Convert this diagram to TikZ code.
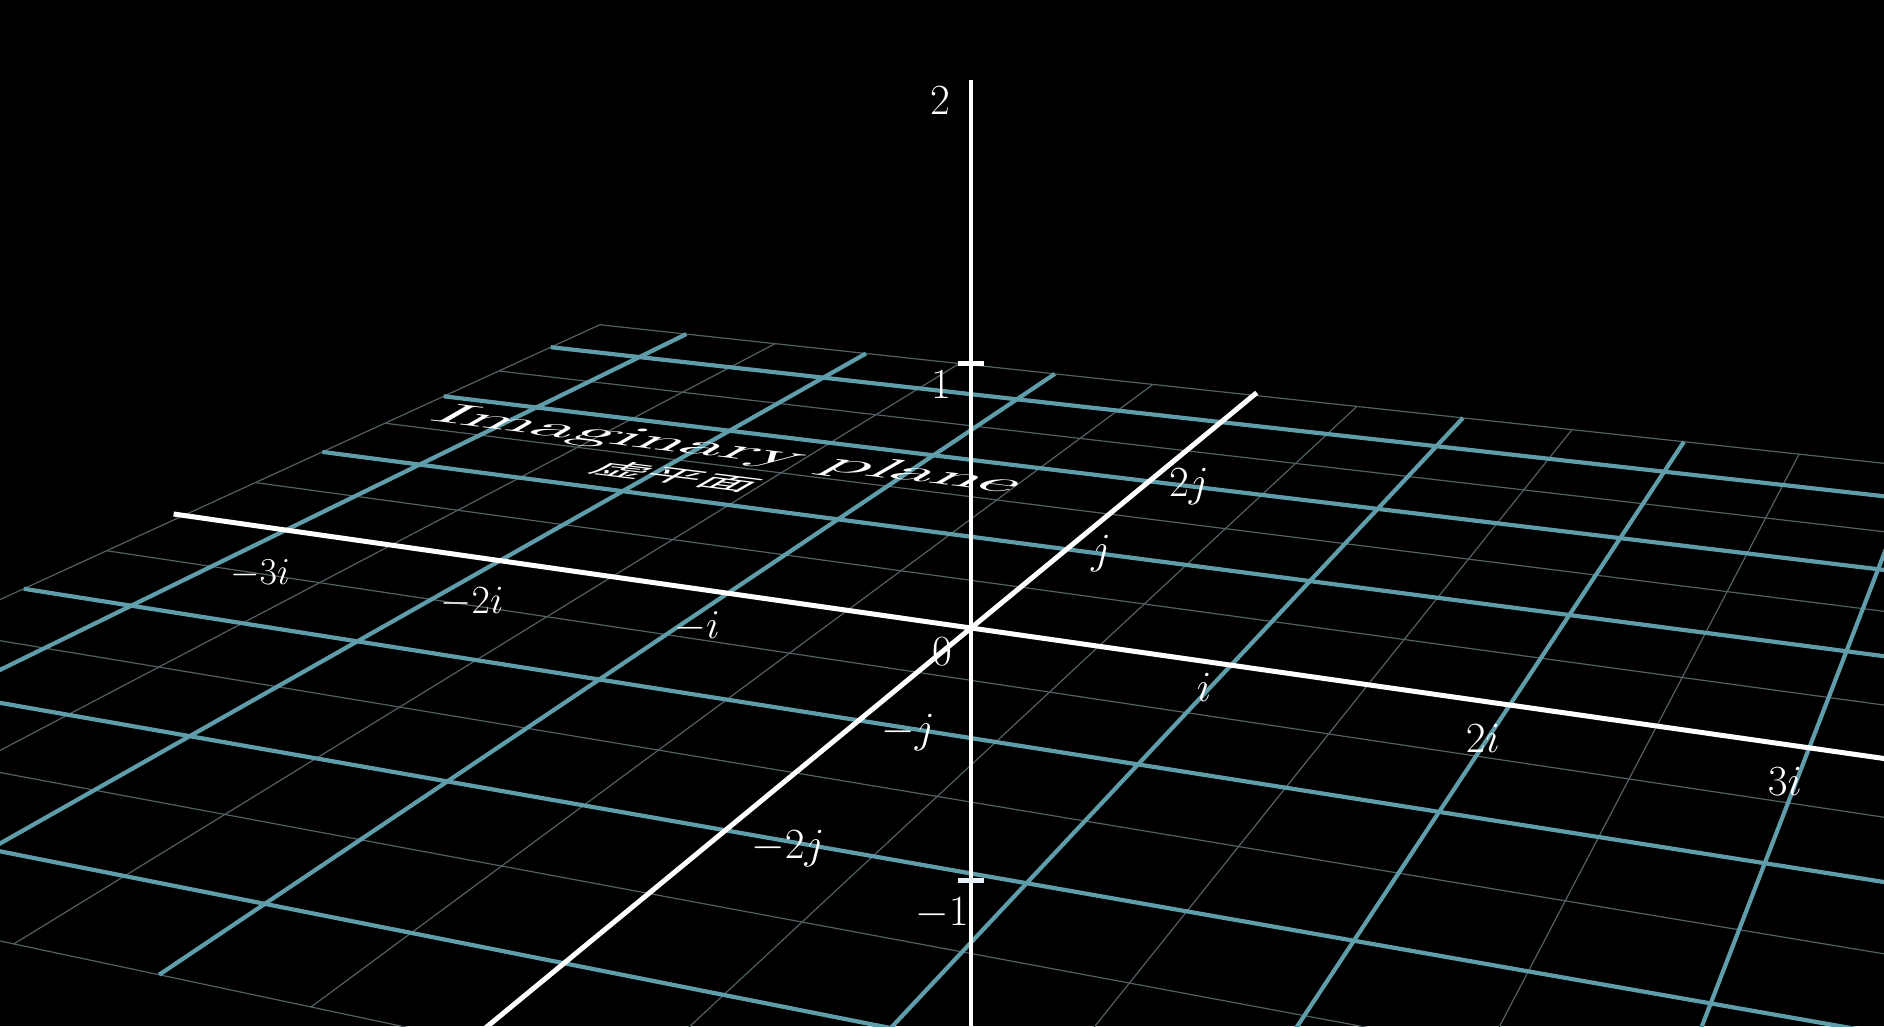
\RequirePackage{fix-cm}
\documentclass[tikz,border=0pt]{standalone}
\usepackage{fontspec}
\newfontfamily\cjk{Noto Sans CJK SC}
\usetikzlibrary{positioning}
\definecolor{gridBlue}{HTML}{5F9DAA}
\definecolor{gridFaint}{HTML}{525F63}

\begin{document}
\begin{tikzpicture}[x=1pt,y=-1pt,
    declare function={
      pw(\uu,\vv)=1-0.03349*(\uu)+0.07966*(\vv);
      planex(\uu,\vv)=(971+218.8*(\uu)+180.6*(\vv))/pw(\uu,\vv);
      planey(\uu,\vv)=(628+14.9*(\uu)-35*(\vv))/pw(\uu,\vv);},
    major/.style={gridBlue,line width=4.2pt},
    minor/.style={gridFaint,line width=1.2pt},
    axis/.style={white,line width=5pt},
    lbl/.style={text=white,inner sep=0pt,font=\fontsize{#1}{#1}\selectfont},
    lbl/.default=43,
    flat/.style={cm={8.144,-1.014,4.168,2.396,(0,0)},transform shape}]
  \useasboundingbox (0,0) rectangle (1884,1026);
  \fill[black] (0,0) rectangle (1884,1026);
  \clip (0,0) rectangle (1884,1026);

  % half-unit lines
  \foreach \k in {-3.5,-2.5,...,3.5} {
    \draw[minor] ({planex(\k,-3.5)},{planey(\k,-3.5)}) -- ({planex(\k,3.5)},{planey(\k,3.5)});
    \draw[minor] ({planex(-3.5,\k)},{planey(-3.5,\k)}) -- ({planex(3.5,\k)},{planey(3.5,\k)});
  }
  % unit lines
  \foreach \k in {-3,-2,-1,1,2,3} {
    \draw[major] ({planex(\k,-3.5)},{planey(\k,-3.5)}) -- ({planex(\k,3.5)},{planey(\k,3.5)});
    \draw[major] ({planex(-3.5,\k)},{planey(-3.5,\k)}) -- ({planex(3.5,\k)},{planey(3.5,\k)});
  }

  % plane title, lying on the grid
  \begin{scope}[shift={(718,457)},flat]
    \node[text=white,anchor=base,inner sep=0pt,font=\fontsize{10}{12}\selectfont] (title) at (0,0) {Imaginary plane};
  \end{scope}
  \begin{scope}[shift={(676,476)},flat]
    \node[text=white,inner sep=0pt,font=\cjk\fontsize{6.5}{7}\selectfont] (titlezh) at (0,0) {虚平面};
  \end{scope}

  % axes
  \coordinate (iLeft) at ({planex(-3.55,0)},{planey(-3.55,0)});
  \coordinate (iRight) at ({planex(3.5,0)},{planey(3.5,0)});
  \coordinate (jFar) at ({planex(0,3.55)},{planey(0,3.55)});
  \coordinate (jNear) at ({planex(0,-3.6)},{planey(0,-3.6)});
  \coordinate (zTop) at (971,80);
  \coordinate (zBot) at (971,1030);
  \coordinate (zOne) at (971,363);
  \coordinate (zMinus) at (971,880);
  \draw[axis] (iLeft) -- (iRight);
  \draw[axis] (jNear) -- (jFar);
  \draw[axis,line width=4.5pt] (zBot) -- (zTop);
  \draw[axis] ([xshift=-13pt]zOne) -- ([xshift=13pt]zOne);
  \draw[axis,white!85!gridBlue] ([xshift=-13pt]zMinus) -- ([xshift=13pt]zMinus);

  % labels
  \node[lbl=38] (lm3i) at (260,574) {$-3i$};
  \node[lbl=40] (lm2i) at (472,602) {$-2i$};
  \node[lbl=41] (lm1i) at (697,627) {$-i$};
  \node[lbl] (l1i) at (1204,687) {$i$};
  \node[lbl] (l2i) at (1483,738) {$2i$};
  \node[lbl] (l3i) at (1785,781) {$3i$};
  \node[lbl] (l1j) at (1101,554) {$j$};
  \node[lbl] (l2j) at (1189,487) {$2j$};
  \node[lbl] (lm1j) at (908,733) {$-j$};
  \node[lbl] (lm2j) at (788,849) {$-2j$};
  \node[lbl] (lzero) at (942,652) {$0$};
  \node[lbl] (ltwo) at (940,101) {$2$};
  \node[lbl] (lone) at (941,385) {$1$};
  \node[lbl] (lmone) at (942,913) {$-1$};
\end{tikzpicture}
\end{document}
